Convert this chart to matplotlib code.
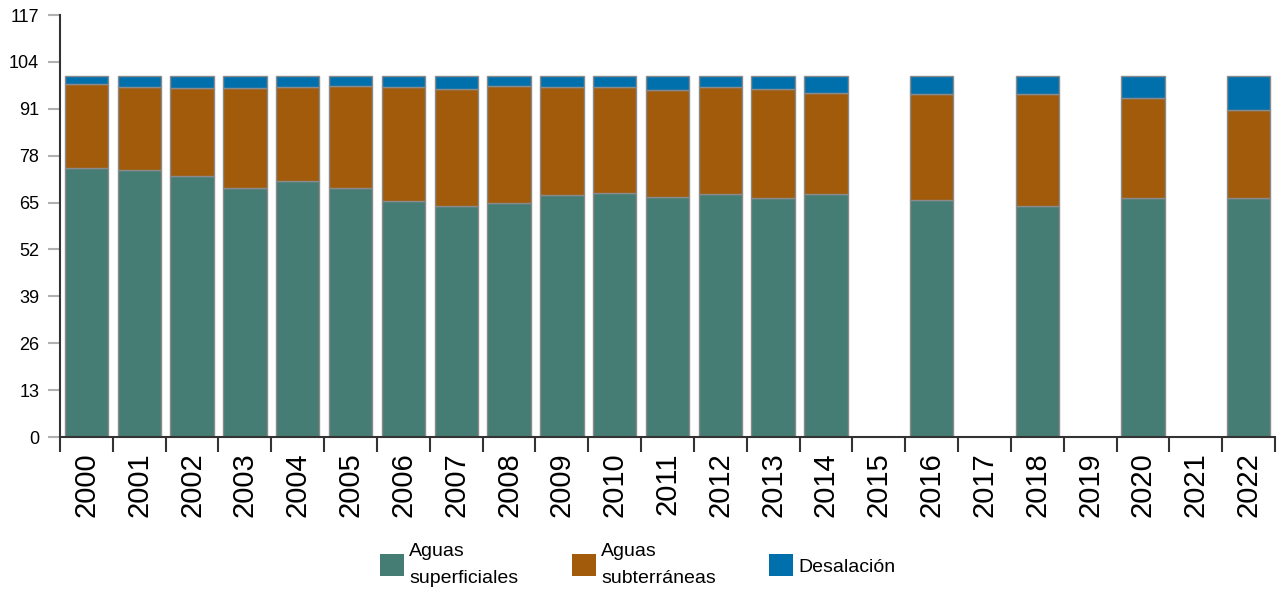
import matplotlib
matplotlib.use('Agg')
import matplotlib.pyplot as plt
import matplotlib.patches as mpatches
import numpy as np

plt.rcParams['font.family'] = ['Liberation Sans', 'DejaVu Sans']

years = [str(y) for y in range(2000, 2023)]
nan = np.nan
superficiales = [74.7, 74.0, 72.5, 68.9, 71.0, 69.1, 65.4, 64.0, 64.9, 67.2,
                 67.7, 66.6, 67.3, 66.3, 67.5, nan, 65.6, nan, 64.1, nan,
                 66.4, nan, 66.3]
subterraneas = [23.1, 23.1, 24.3, 27.9, 25.9, 28.2, 31.7, 32.5, 32.4, 29.9,
                29.2, 29.5, 29.6, 30.1, 27.9, nan, 29.5, nan, 31.0, nan,
                27.6, nan, 24.3]
desalacion = [2.2, 2.9, 3.2, 3.2, 3.1, 2.7, 2.9, 3.5, 2.7, 2.9,
              3.1, 3.9, 3.1, 3.6, 4.6, nan, 4.9, nan, 4.9, nan,
              6.0, nan, 9.4]
yticks = list(range(0, 118, 13))

labels = ["Aguas\nsuperficiales", "Aguas\nsubterráneas", "Desalación"]
colors = ["#457c74", "#a15b0b", "#0070ad"]

fig = plt.figure(figsize=(12.78, 5.90), dpi=100)
ax = fig.add_axes([60 / 1278, 1 - 437 / 590, 1215 / 1278, 422 / 590])

x = np.arange(len(years))
s1 = np.array(superficiales)
s2 = np.array(subterraneas)
s3 = np.array(desalacion)
ok = ~np.isnan(s1)

bottom = np.zeros(ok.sum())
for vals, c in zip([s1, s2, s3], colors):
    ax.bar(x[ok], vals[ok], bottom=bottom, width=0.82, color=c,
           edgecolor="#8a8a8a", linewidth=1)
    bottom = bottom + vals[ok]

ax.set_xlim(-0.5, len(years) - 0.5)
ax.set_ylim(0, 117)
ax.set_yticks(yticks)
ax.set_xticks(x)
ax.set_xticklabels(years, rotation=90, fontsize=21, va='top')
ax.set_xticks(np.arange(-0.5, len(years)), minor=True)
ax.tick_params(axis='x', which='major', length=0, pad=11)
ax.tick_params(axis='x', which='minor', length=11, width=1.5, color='#333333')
ax.tick_params(axis='y', length=9, width=1.5, color='#b0b0b0', pad=6,
               labelsize=13)

for side in ['top', 'right']:
    ax.spines[side].set_visible(False)
for side in ['left', 'bottom']:
    ax.spines[side].set_color('#333333')
    ax.spines[side].set_linewidth(1.5)

handles = [mpatches.Patch(facecolor=c, edgecolor='none') for c in colors]
leg = fig.legend(handles, labels, loc='center', ncol=3,
                 bbox_to_anchor=(0.499, 1 - 565 / 590), frameon=False,
                 fontsize=14, handlelength=1.25, handleheight=1.4,
                 handletextpad=0.25, columnspacing=2.75)
for t in leg.get_texts():
    t.set_linespacing(1.7)

fig.savefig("out.png", dpi=100)
plt.close(fig)
